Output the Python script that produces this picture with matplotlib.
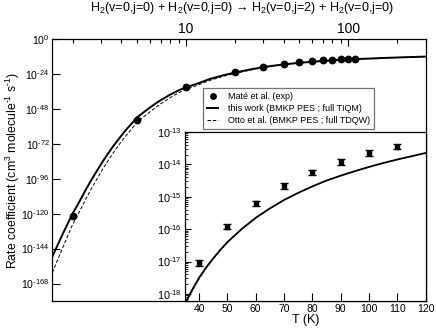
import numpy as np
import matplotlib
matplotlib.use('Agg')
import matplotlib.pyplot as plt
from matplotlib.ticker import FixedLocator, NullLocator, FixedFormatter, NullFormatter, LogLocator

plt.rcParams['font.family'] = ['Liberation Sans', 'DejaVu Sans']
plt.rcParams['mathtext.fontset'] = 'custom'
plt.rcParams['mathtext.rm'] = 'Liberation Sans'
plt.rcParams['mathtext.default'] = 'regular'

# ---- data (log10 of rate coefficient, cm^3 molecule^-1 s^-1) ----
T_exp = [2, 5, 10, 20, 30, 40, 50, 60, 70, 80, 90, 100, 110]
log_k_exp = [-121.9, -55.5, -33.1, -22.8, -19.0, -17.04, -15.92, -15.2, -14.66,
             -14.25, -13.92, -13.64, -13.45]
T_inset_exp = [40, 50, 60, 70, 80, 90, 100, 110]
log_k_inset_exp = [-17.04, -15.92, -15.2, -14.66, -14.25, -13.92, -13.64, -13.45]
rel_err = 0.18

T_curve = [1.5, 1.75, 2.0, 2.2, 2.4, 2.6, 2.8, 3.1, 3.5, 3.8, 4.2, 4.6, 5, 5.7, 6.5,
           7, 8, 9, 10, 12, 14, 17, 20, 25, 30, 35, 37.5, 40, 42.5, 45, 47.5, 50,
           55, 60, 65, 70, 75, 80, 85, 90, 95, 100, 105, 110, 115, 120, 140, 160,
           190, 220, 260, 300]
log_k_tiqm = [-149.5, -133.3, -120.0, -111.9, -104.0, -97.2, -91.3, -83.4, -74.8,
              -69.5, -63.4, -58.4, -53.8, -48.9, -44.3, -42.0, -38.2, -35.3, -33.2,
              -30.3, -27.5, -24.9, -23.1, -20.9, -19.3, -18.3, -17.88, -17.5, -17.18,
              -16.9, -16.64, -16.4, -16.0, -15.65, -15.36, -15.1, -14.88, -14.68,
              -14.5, -14.35, -14.21, -14.08, -13.96, -13.85, -13.75, -13.65, -13.4,
              -13.1, -12.8, -12.55, -12.3, -12.1]
log_k_tdqw = [-160.5, -142.6, -127.5, -118.9, -110.5, -103.3, -97.0, -88.5, -79.5,
              -73.8, -67.4, -62.1, -57.2, -52.0, -47.0, -44.5, -40.3, -37.0, -34.6,
              -31.5, -28.5, -25.6, -23.7, -21.3, -19.6, -18.36, -17.93, -17.55, -17.22,
              -16.93, -16.66, -16.42, -16.01, -15.66, -15.36, -15.1, -14.88, -14.68,
              -14.5, -14.35, -14.21, -14.08, -13.96, -13.85, -13.75, -13.65, -13.4,
              -13.1, -12.8, -12.55, -12.3, -12.1]

main_yticks_exp = [0, -24, -48, -72, -96, -120, -144, -168]
inset_yticks_exp = [-18, -17, -16, -15, -14, -13]
inset_xticks = [40, 50, 60, 70, 80, 90, 100, 110, 120]

title = r"H$_2$(v=0,j=0) + H$_2$(v=0,j=0) → H$_2$(v=0,j=2) + H$_2$(v=0,j=0)"
ylabel = r"Rate coefficient (cm$^3$ molecule$^{‐1}$ s$^{‐1}$)"
labels = ["Maté et al. (exp)", "this work (BMKP PES ; full TIQM)",
          "Otto et al. (BMKP PES ; full TDQW)"]


def pow_label(e):
    return "10$^{%s}$" % (str(e).replace('-', '‐'))


k_exp = 10.0 ** np.array(log_k_exp)
k_iexp = 10.0 ** np.array(log_k_inset_exp)
k_tiqm = 10.0 ** np.array(log_k_tiqm)
k_tdqw = 10.0 ** np.array(log_k_tdqw)

W, H = 436, 330
fig = plt.figure(figsize=(W / 100, H / 100), dpi=100)


def rect(l, t, r, b):
    return [l / W, 1 - b / H, (r - l) / W, (b - t) / H]


ax = fig.add_axes(rect(52.3, 39, 425.5, 301))
ax.set_xscale('log')
ax.set_yscale('log')
ax.plot(T_curve, k_tdqw, color='black', lw=0.7, dashes=(3.5, 2), label=labels[2])
ax.plot(T_curve, k_tiqm, color='black', lw=1.4, label=labels[1])
ax.plot(T_exp, k_exp, 'o', color='black', ms=4.6, label=labels[0])
ax.set_xlim(1.5, 300)
ax.set_ylim(1e-180, 1.0)

ax.xaxis.tick_top()
ax.xaxis.set_major_locator(FixedLocator([10, 100]))
ax.xaxis.set_major_formatter(FixedFormatter(['10', '100']))
ax.xaxis.set_minor_locator(LogLocator(base=10, subs=np.arange(2, 10), numticks=20))
ax.xaxis.set_minor_formatter(NullFormatter())
ax.yaxis.set_major_locator(FixedLocator([10.0 ** e for e in main_yticks_exp]))
ax.yaxis.set_major_formatter(FixedFormatter([pow_label(e) for e in main_yticks_exp]))
ax.yaxis.set_minor_locator(NullLocator())
ax.tick_params(axis='x', which='major', direction='in', length=5, width=0.8,
               labelsize=10, pad=2)
ax.tick_params(axis='x', which='minor', direction='in', length=3, width=0.8)
ax.tick_params(axis='y', which='major', direction='in', length=6, width=0.8,
               labelsize=7.6, pad=2)
for s in ax.spines.values():
    s.set_linewidth(0.9)

handles, labs = ax.get_legend_handles_labels()
order = [2, 1, 0]
leg = ax.legend([handles[i] for i in order], [labs[i] for i in order],
                loc='upper left', bbox_to_anchor=(202.7 / W, 1 - 87.7 / H),
                bbox_transform=fig.transFigure, borderaxespad=0, fontsize=6.5,
                frameon=True, fancybox=False, edgecolor='0.45', framealpha=1,
                handlelength=1.3, handletextpad=1.0, borderpad=0.45,
                labelspacing=0.35, markerscale=0.85)
leg.get_frame().set_linewidth(0.9)

fig.text(241.5 / W, 1 - 8 / H, title, ha='center', va='center', fontsize=9)
fig.text(12.5 / W, 1 - 170 / H, ylabel, ha='center', va='center', rotation=90,
         fontsize=8.8)

# ---- inset ----
ins = fig.add_axes(rect(185, 132, 425.5, 301))
ins.set_yscale('log')
ins.plot(T_curve, k_tdqw, color='0.4', lw=0.6, dashes=(3.5, 2))
ins.plot(T_curve, k_tiqm, color='black', lw=1.3)
ins.errorbar(T_inset_exp, k_iexp, yerr=k_iexp * rel_err, fmt='s', color='black',
             ms=2.2, elinewidth=0.8, capsize=2.8, capthick=1.0)
ins.set_xlim(35, 120)
ins.set_ylim(10 ** -18.22, 1e-13)
ins.xaxis.set_major_locator(FixedLocator(inset_xticks))
ins.yaxis.set_major_locator(FixedLocator([10.0 ** e for e in inset_yticks_exp]))
ins.yaxis.set_major_formatter(FixedFormatter([pow_label(e) for e in inset_yticks_exp]))
ins.yaxis.set_minor_locator(LogLocator(base=10, subs=np.arange(2, 10), numticks=20))
ins.yaxis.set_minor_formatter(NullFormatter())
ins.tick_params(axis='x', which='major', direction='in', length=6, width=0.8,
                labelsize=7.5, pad=2)
ins.tick_params(axis='y', which='major', direction='in', length=4.5, width=0.8,
                labelsize=7.8, pad=2)
ins.tick_params(axis='y', which='minor', direction='in', length=2.5, width=0.6)
ins.set_xlabel("T (K)", fontsize=9, labelpad=0)
for s in ins.spines.values():
    s.set_linewidth(0.9)

fig.savefig('out.png', dpi=100, facecolor='white')
